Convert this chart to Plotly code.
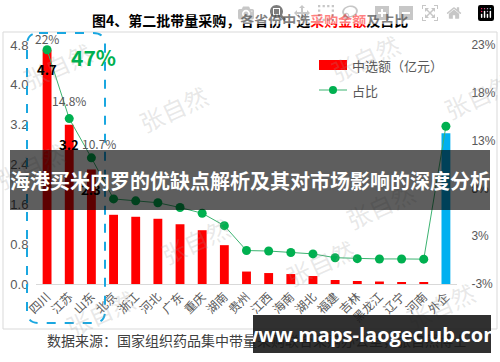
import plotly.graph_objects as go

# ---------------- data ----------------
categories = ["四川", "江苏", "山东", "北京", "浙江", "河北", "广东", "重庆", "湖南", "贵州",
              "江西", "海南", "湖北", "福建", "吉林", "黑龙江", "辽宁", "河南", "外企"]
amounts = [4.7, 3.2, 2.3, 1.39, 1.35, 1.31, 1.20, 1.08, 0.78, 0.25,
           0.22, 0.20, 0.16, 0.08, 0.06, 0.05, 0.04, 0.04, 3.03]
shares = [22.0, 14.8, 10.7, 6.4, 6.2, 6.0, 5.5, 4.9, 3.6, 1.0,
          0.95, 0.8, 0.65, 0.25, 0.15, 0.12, 0.12, 0.1, 14.0]
amount_labels = {"四川": "4.7", "江苏": "3.2", "山东": "2.3"}
share_labels = {"四川": "22%", "江苏": "14.8%", "山东": "10.7%"}
left_ticks = [0.0, 0.8, 1.6, 2.4, 3.2, 4.0, 4.8]
right_tickvals = [-2.5, 2.5, 7.5, 12.5, 17.5, 22.5]
right_ticktext = ["-3%", "3%", "8%", "13%", "18%", "23%"]

# ---------------- geometry helpers ----------------
W, H = 500, 362
L, R, T, B = 36, 43, 45, 78
PW, PH = W - L - R, H - T - B


def px(x):
    return (x - L) / PW


def py(y):
    return (H - B - y) / PH


GRAY = "#595959"
FONT = "Noto Sans CJK SC"

bar_colors = ["#FF0000"] * (len(categories) - 1) + ["#00B0F0"]

fig = go.Figure()
fig.add_trace(go.Bar(x=categories, y=amounts, marker_color=bar_colors,
                     marker_line_width=0, name="中选额（亿元）", yaxis="y"))
fig.add_trace(go.Scatter(x=categories, y=shares, mode="lines+markers", name="占比",
                         line=dict(color="#3CB371", width=1),
                         marker=dict(color="#00B050", size=9), yaxis="y2"))

annotations = []
shapes = []


def pa(x, y, text, size, color, family=FONT, xanchor="center", **kw):
    annotations.append(dict(x=px(x), y=py(y), xref="paper", yref="paper", text=text,
                            showarrow=False, xanchor=xanchor, yanchor="middle",
                            font=dict(size=size, color=color, family=family), **kw))


# watermarks
for (wx, wy) in [(57, 65), (173, 108), (365, 57), (478, 95), (195, 240), (320, 262),
                 (30, 165), (100, 312), (440, 305), (380, 205)]:
    pa(wx, wy, "张自然", 24, "rgba(150,150,150,0.22)", textangle=-25)

# data labels
for i, c in enumerate(categories):
    if c in amount_labels:
        annotations.append(dict(x=c, y=amounts[i], xref="x", yref="y", text="<b>" + amount_labels[c] + "</b>",
                                showarrow=False, yshift=-20, xanchor="center", yanchor="middle",
                                font=dict(size=13, color="#000000", family=FONT)))
    if c in share_labels:
        xs = 8 if c == "山东" else 0
        ys = {"四川": 11, "江苏": 18, "山东": 14}[c]
        annotations.append(dict(x=c, y=shares[i], xref="x", yref="y2", text=share_labels[c],
                                showarrow=False, yshift=ys, xshift=xs, xanchor="center", yanchor="middle",
                                font=dict(size=12, color=GRAY, family=FONT)))

# title
pa(250, 20, "<b>图4、第二批带量采购，各省份中选<span style='color:#FF0000'>采购金额</span>及占比</b>", 14, "#000000")
# 47%
pa(93, 57, "<b>47%</b>", 21, "#00B050")
# legend (manual)
shapes.append(dict(type="rect", xref="paper", yref="paper", x0=px(319), x1=px(347), y0=py(70), y1=py(60),
                   fillcolor="#FF0000", line=dict(width=0)))
shapes.append(dict(type="line", xref="paper", yref="paper", x0=px(319), x1=px(347), y0=py(90), y1=py(90),
                   line=dict(color="#3CB371", width=1)))
shapes.append(dict(type="circle", xref="paper", yref="paper", x0=px(329), x1=px(337), y0=py(94), y1=py(86),
                   fillcolor="#00B050", line=dict(width=0)))
pa(350, 65, "中选额（亿元）", 13, GRAY, xanchor="left")
pa(350, 90, "占比", 13, GRAY, xanchor="left")
# source
pa(45, 340, "数据来源：国家组织药品集中带量采购联合采购办公室，张自然博士", 14, "#404040", xanchor="left")

# chart frame
shapes.append(dict(type="rect", xref="paper", yref="paper", x0=px(3), x1=px(497), y0=py(329), y1=py(32),
                   line=dict(color="#D9D9D9", width=1), layer="below"))

# dashed rounded box
x0, x1, y0, y1 = px(27), px(105), py(323), py(33)
rx, ry = 12 / PW, 12 / PH
path = (f"M {x0+rx},{y1} L {x1-rx},{y1} Q {x1},{y1} {x1},{y1-ry} L {x1},{y0+ry} "
        f"Q {x1},{y0} {x1-rx},{y0} L {x0+rx},{y0} Q {x0},{y0} {x0},{y0+ry} "
        f"L {x0},{y1-ry} Q {x0},{y1} {x0+rx},{y1} Z")
shapes.append(dict(type="path", xref="paper", yref="paper", path=path,
                   line=dict(color="#1AA7E0", width=2, dash="dash")))

# overlay banners (annotations with background so they sit on top of all texts)
pa(250, 180, "<b>海港买米内罗的优缺点解析及其对市场影响的深度分析</b>", 20, "#FFFFFF",
   bgcolor="rgba(0,0,0,0.63)", width=480, height=60, borderpad=0, borderwidth=0)
pa(372, 334, "<b>www.maps-laogeclub.com</b>", 20, "#FFFFFF", family="Open Sans",
   bgcolor="rgba(25,25,25,0.9)", width=238, height=38, borderpad=0, borderwidth=0)

fig.update_layout(
    width=W, height=H, autosize=False,
    margin=dict(l=L, r=R, t=T, b=B, pad=0),
    paper_bgcolor="white", plot_bgcolor="white",
    showlegend=False, bargap=0.6,
    font=dict(family=FONT, color=GRAY, size=12),
    xaxis=dict(type="category", range=[-0.5, len(categories) - 0.5], showline=True,
               linecolor="#D9D9D9", linewidth=1,
               tickangle=-45, ticks="", showgrid=False, automargin=False,
               tickfont=dict(size=12, color=GRAY, family=FONT)),
    yaxis=dict(range=[0, 4.8], tickvals=left_ticks, tickformat=".1f", showgrid=False,
               zeroline=False, showline=False, automargin=False, ticks="outside",
               ticklen=4, tickcolor="rgba(0,0,0,0)",
               tickfont=dict(size=13, color=GRAY, family="Liberation Sans")),
    yaxis2=dict(range=[-2.5, 22.5], overlaying="y", side="right", tickvals=right_tickvals,
                ticktext=right_ticktext, showgrid=False, zeroline=False, showline=False,
                automargin=False, ticks="outside", ticklen=11, tickcolor="rgba(0,0,0,0)",
                tickfont=dict(size=12, color=GRAY, family="Liberation Sans")),
    annotations=annotations, shapes=shapes,
)

fig.write_html("out.html", post_script="document.body.style.margin='0';")
